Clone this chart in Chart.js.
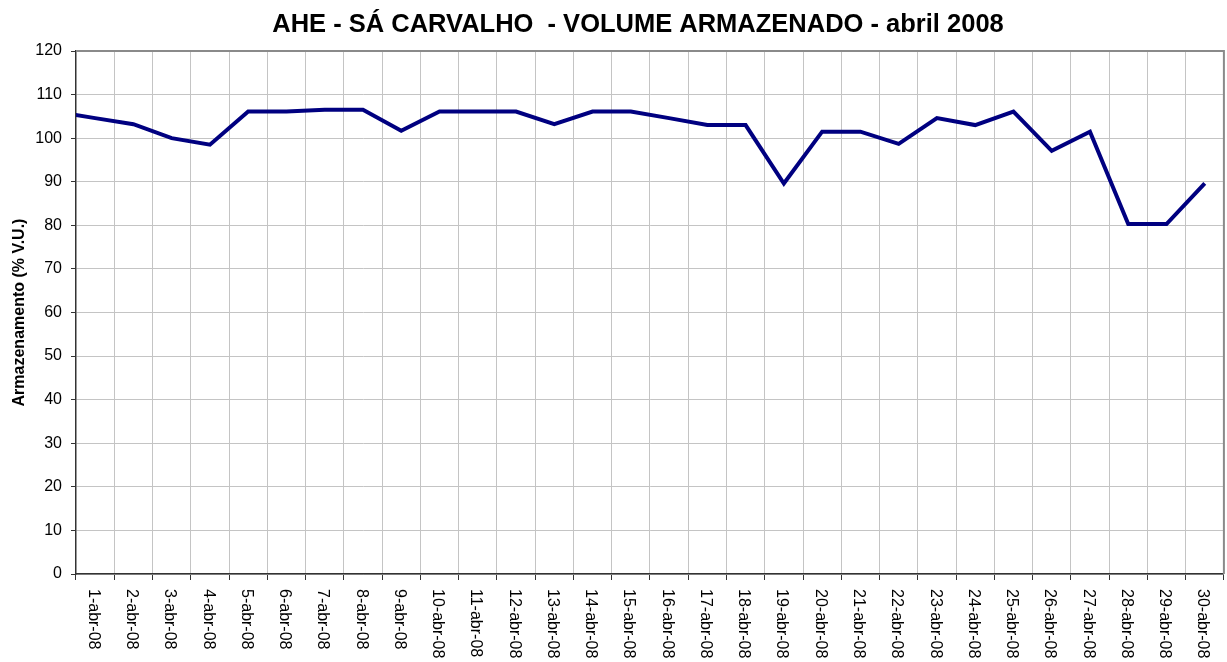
<!DOCTYPE html>
<html>
<head>
<meta charset="utf-8">
<script src="https://cdn.jsdelivr.net/npm/chart.js@4.4.1/dist/chart.umd.min.js"></script>
<style>
  html, body { margin: 0; padding: 0; background: #fff; }
</style>
</head>
<body>
<canvas id="grafico" width="1227" height="662"></canvas>
<script>
const titulo = 'AHE - SÁ CARVALHO  - VOLUME ARMAZENADO - abril 2008';
const tituloY = 'Armazenamento (% V.U.)';

// 31-mar-08 fica fora da área visível: só serve para a linha sair do eixo como no original
const dias = [
  '31-mar-08',
  '1-abr-08', '2-abr-08', '3-abr-08', '4-abr-08', '5-abr-08', '6-abr-08',
  '7-abr-08', '8-abr-08', '9-abr-08', '10-abr-08', '11-abr-08', '12-abr-08',
  '13-abr-08', '14-abr-08', '15-abr-08', '16-abr-08', '17-abr-08', '18-abr-08',
  '19-abr-08', '20-abr-08', '21-abr-08', '22-abr-08', '23-abr-08', '24-abr-08',
  '25-abr-08', '26-abr-08', '27-abr-08', '28-abr-08', '29-abr-08', '30-abr-08'
];
const volume = [
  106.0,
  104.6, 103.2, 100.0, 98.5, 106.1, 106.1,
  106.5, 106.5, 101.7, 106.1, 106.1, 106.1,
  103.2, 106.1, 106.1, 104.6, 103.0, 103.0,
  89.6, 101.5, 101.5, 98.7, 104.6, 103.0,
  106.1, 97.1, 101.5, 80.3, 80.3, 89.6
];
const yMin = 0, yMax = 120, yPasso = 10;

const fonte = "'Liberation Sans', Arial, sans-serif";

// título, rótulos do eixo X girados no sentido horário e moldura cinza
const extras = {
  id: 'extras',
  afterDraw(chart) {
    const ctx = chart.ctx;
    const area = chart.chartArea;
    const eixoX = chart.scales.x;
    ctx.save();
    ctx.strokeStyle = '#8a8a8a';
    ctx.lineWidth = 2;
    ctx.beginPath();
    ctx.moveTo(area.left, area.top);
    ctx.lineTo(area.right, area.top);
    ctx.lineTo(area.right, area.bottom);
    ctx.stroke();

    ctx.fillStyle = '#000';
    ctx.font = 'bold 25.5px ' + fonte;
    ctx.textAlign = 'center';
    ctx.textBaseline = 'middle';
    ctx.fillText(titulo, 638, 25);

    ctx.font = '16px ' + fonte;
    ctx.textAlign = 'left';
    eixoX.ticks.forEach((t, i) => {
      const px = eixoX.getPixelForTick(i);
      ctx.save();
      ctx.translate(px - 2, area.bottom + 15);
      ctx.rotate(Math.PI / 2);
      ctx.fillText(eixoX.getLabelForValue(t.value), 0, 0);
      ctx.restore();
    });
    ctx.restore();
  }
};

const ctx = document.getElementById('grafico').getContext('2d');
new Chart(ctx, {
  type: 'line',
  data: {
    labels: dias,
    datasets: [{
      data: volume,
      borderColor: '#000080',
      borderWidth: 4,
      pointRadius: 0,
      tension: 0,
      fill: false
    }]
  },
  options: {
    responsive: false,
    animation: false,
    devicePixelRatio: 1,
    layout: { padding: { top: 51, right: 2, bottom: 0, left: 0 } },
    plugins: {
      legend: { display: false },
      title: { display: false },
      tooltip: { enabled: false }
    },
    scales: {
      x: {
        type: 'category',
        min: '1-abr-08',
        offset: true,
        grid: {
          offset: true,
          color: '#c4c4c4',
          lineWidth: 1,
          tickLength: 6,
          tickColor: '#333'
        },
        border: { color: '#333', width: 1.5 },
        ticks: {
          color: 'transparent',
          autoSkip: false,
          minRotation: 90,
          maxRotation: 90,
          font: { family: fonte, size: 16 }
        },
        afterFit(scale) { scale.height = 88; }
      },
      y: {
        min: yMin,
        max: yMax,
        ticks: {
          stepSize: yPasso,
          color: '#000',
          padding: 9,
          font: { family: fonte, size: 16 }
        },
        grid: {
          color: '#c4c4c4',
          lineWidth: 1,
          tickLength: 5,
          tickColor: '#333'
        },
        border: { color: '#333', width: 1.5 },
        title: {
          display: true,
          text: tituloY,
          color: '#000',
          font: { family: fonte, size: 16, weight: 'bold' },
          padding: { top: 10, bottom: 0 }
        },
        afterFit(scale) { scale.width = 76; }
      }
    }
  },
  plugins: [extras]
});
</script>
</body>
</html>
